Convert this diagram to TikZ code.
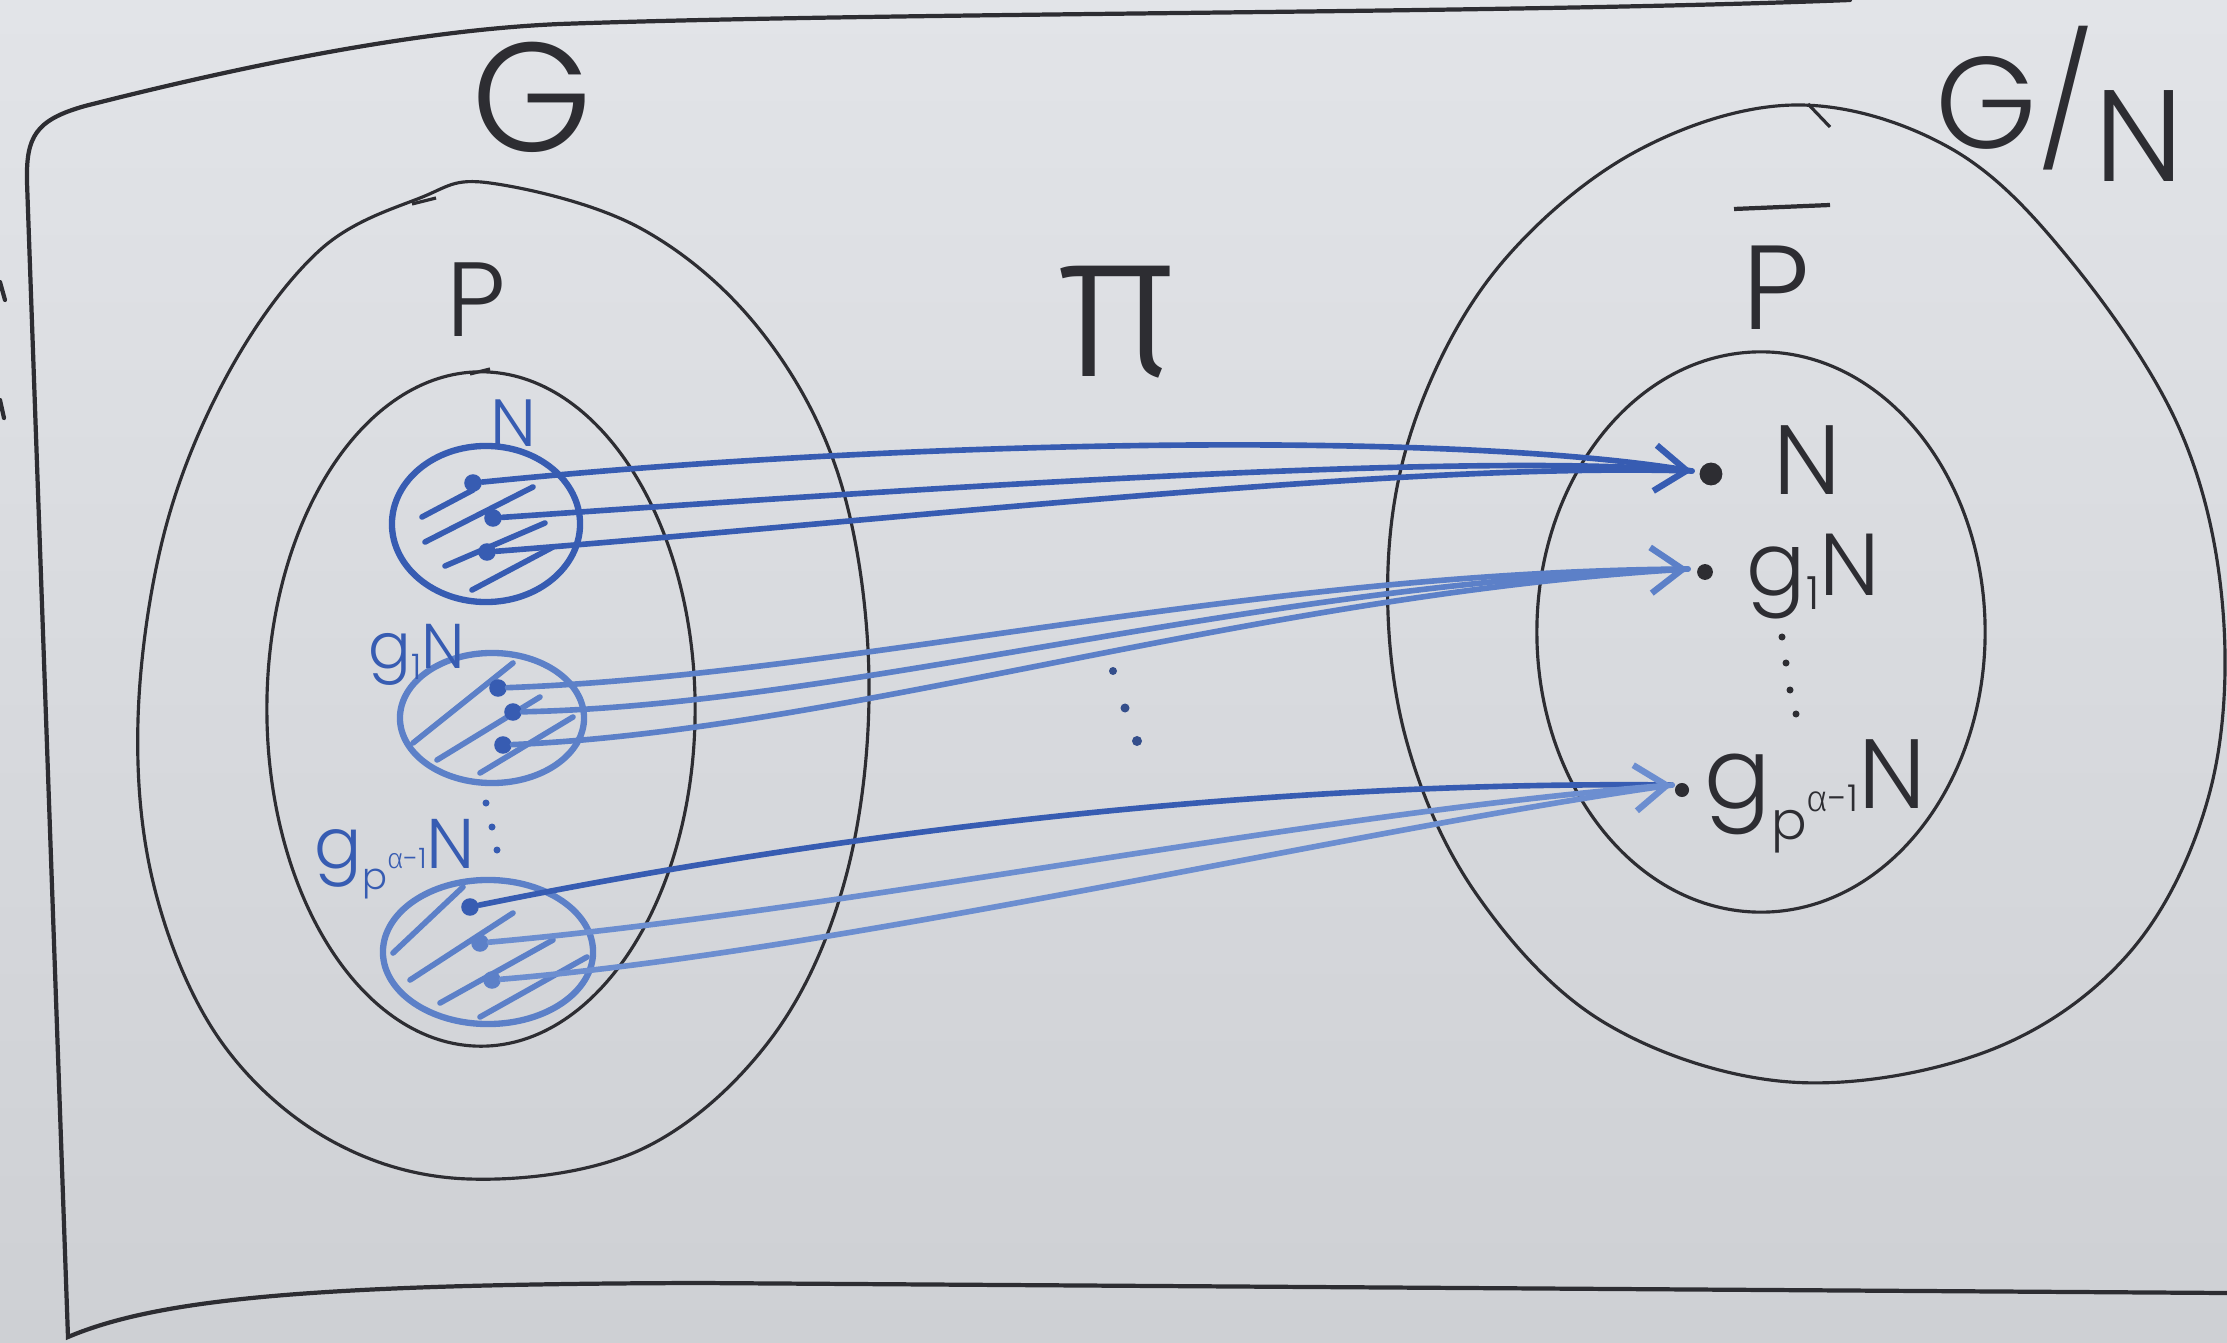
\documentclass[tikz,border=0pt]{standalone}
\usepackage{fontspec}
\setmainfont{Poppins}[UprightFont=* Light]
\newfontfamily\grk{Fira Sans}[UprightFont=* Light]
\usetikzlibrary{arrows.meta,calc}
\definecolor{boardtop}{RGB}{226,228,232}
\definecolor{boardbot}{RGB}{206,208,212}
\definecolor{inkc}{RGB}{45,45,50}
\definecolor{blueA}{RGB}{55,92,178}
\definecolor{blueB}{RGB}{92,128,200}
\definecolor{blueC}{RGB}{108,142,208}
\begin{document}
\begin{tikzpicture}[x=0.01cm,y=-0.01cm,
  ink/.style={draw=inkc,line width=0.9pt},
  frame/.style={draw=inkc,line width=1.2pt,line cap=round},
  bcirc/.style={draw=#1,line width=1.8pt},
  hatch/.style={draw=#1,line width=1.6pt,line cap=round},
  bun/.style={draw=#1,line width=1.6pt,line cap=round},
  tip/.style={-{Straight Barb[length=9pt,width=13pt,line width=1.8pt]}},
  ldot/.style={circle,fill=#1,inner sep=0pt,minimum size=5pt},
  rdot/.style={circle,fill=inkc,inner sep=0pt,minimum size=#1},
  lbl/.style={text=inkc,inner sep=0pt},
  blbl/.style={text=blueA,inner sep=0pt}]
\useasboundingbox (0,0) rectangle (2227,1343);
\shade[top color=boardtop,bottom color=boardbot] (0,0) rectangle (2227,1343);

% frame
\draw[frame] (1850,0) .. controls (1500,14) and (900,12) .. (560,24)
  .. controls (420,30) and (250,64) .. (85,106)
  .. controls (35,120) and (26,137) .. (27,182) -- (68,1337)
  .. controls (160,1298) and (320,1284) .. (700,1283) -- (2227,1293);
\draw[frame] (0,282) -- (5,300);
\draw[frame] (0,400) -- (4,418);

% G side
\draw[ink] plot[smooth cycle,tension=0.6] coordinates {(490,183) (640,228) (760,330) (840,480) (869,680) (845,880) (770,1040) (640,1150) (469,1179) (330,1140) (220,1040) (155,890) (138,720) (165,530) (230,370) (320,250) (420,198)};
\draw[ink] (412,204) -- (436,198);
\draw[ink] (481,709) ellipse [x radius=2.14cm, y radius=3.37cm];
\draw[ink] (470,374) -- (490,369);

% G/N side
\draw[ink] plot[smooth cycle,tension=0.6] coordinates {(1795,105) (1635,152) (1500,265) (1418,412) (1388,568) (1406,739) (1477,895) (1605,1023) (1790,1082) (1988,1051) (2130,952) (2209,795) (2223,611) (2180,430) (2070,260) (1950,148)};
\draw[ink] (1808,104) -- (1830,127);
\draw[ink] (1761,632) ellipse [x radius=2.24cm, y radius=2.80cm];

% labels
\node[lbl,font=\fontsize{44}{44}\selectfont] (G) at (532,97) {G};
\node[lbl,font=\fontsize{37}{37}\selectfont] (GN) at (2060,104) {G/\raisebox{-0.25em}{N}};
\node[lbl,font=\fontsize{30}{30}\selectfont] (P) at (476,300) {P};
\node[lbl,font=\fontsize{60}{60}\selectfont] (pi) at (1117,322) {\grk π};
\node[lbl,font=\fontsize{34}{34}\selectfont] (Pbar) at (1776,288) {P};
\draw[ink,line width=1.2pt] (1734,209) -- (1830,205);

% small circles (left)
\draw[bcirc=blueA] (486,524) ellipse [x radius=0.94cm, y radius=0.78cm];
\draw[bcirc=blueB] (492,718) ellipse [x radius=0.92cm, y radius=0.65cm];
\draw[bcirc=blueB] (488,952) ellipse [x radius=1.05cm, y radius=0.72cm];

% hatching
\draw[hatch=blueA] (422,517) -- (473,490);
\draw[hatch=blueA] (425,542) -- (533,487);
\draw[hatch=blueA] (445,566) -- (545,523);
\draw[hatch=blueA] (472,590) -- (553,547);
\draw[hatch=blueB] (413,743) -- (513,663);
\draw[hatch=blueB] (437,760) -- (540,697);
\draw[hatch=blueB] (480,773) -- (573,717);
\draw[hatch=blueB] (393,953) -- (463,887);
\draw[hatch=blueB] (410,980) -- (513,913);
\draw[hatch=blueB] (440,1003) -- (553,940);
\draw[hatch=blueB] (480,1017) -- (587,957);

% left blue labels
\node[blbl,font=\fontsize{19}{19}\selectfont] (lN) at (513,423) {N};
\node[blbl,font=\fontsize{18}{18}\selectfont] (lg1) at (417,655) {g\raisebox{-3pt}{\fontsize{10}{10}\selectfont 1}N};
\node[blbl,font=\fontsize{20}{20}\selectfont,anchor=base west] (lg3) at (314,868) {g\raisebox{-6pt}{\fontsize{10.5}{10.5}\selectfont p\raisebox{6pt}{\fontsize{8}{8}\selectfont{\grk α}-1}}N};
\fill[blueA] (486,803) circle [radius=0.035cm];
\fill[blueA] (492,827) circle [radius=0.035cm];
\fill[blueA] (497,850) circle [radius=0.035cm];

% left dots
\node[ldot=blueA] (a1) at (473,483) {};
\node[ldot=blueA] (a2) at (493,518) {};
\node[ldot=blueA] (a3) at (487,552) {};
\node[ldot=blueA] (b1) at (498,688) {};
\node[ldot=blueA] (b2) at (513,712) {};
\node[ldot=blueA] (b3) at (503,745) {};
\node[ldot=blueA] (c1) at (470,907) {};
\node[ldot=blueB] (c2) at (480,943) {};
\node[ldot=blueB] (c3) at (492,980) {};

% right dots and labels
\node[rdot=6.5pt] (rN) at (1711,474) {};
\node[rdot=4.5pt] (rg1) at (1705,572) {};
\node[rdot=4pt] (rg3) at (1682,790) {};
\coordinate (tN) at (1692,471);
\coordinate (tg1) at (1688,569);
\coordinate (tg3) at (1672,785);
\node[lbl,font=\fontsize{28}{28}\selectfont] (labN) at (1807,460) {N};
\node[lbl,font=\fontsize{25}{25}\selectfont,anchor=base west] (labg1) at (1746,595) {g\raisebox{-4pt}{\fontsize{13}{13}\selectfont 1}N};
\node[lbl,font=\fontsize{28}{28}\selectfont,anchor=base west] (labg3) at (1704,808) {g\raisebox{-9pt}{\fontsize{15}{15}\selectfont p\raisebox{8pt}{\fontsize{10.5}{10.5}\selectfont{\grk α}-1}}N};
\foreach \p in {(1782,637),(1786,663),(1790,690),(1796,714)}
  \fill[inkc] \p circle [radius=0.035cm];

% middle dots
\fill[blueA!70!inkc] (1113,671) circle [radius=0.04cm];
\fill[blueA!70!inkc] (1125,708) circle [radius=0.045cm];
\fill[blueA!70!inkc] (1137,741) circle [radius=0.05cm];

% bundles
\draw[bun=blueA] (a1) .. controls (900,440) and (1450,430) .. (tN);
\draw[bun=blueA] (a3) .. controls (900,520) and (1400,462) .. (tN);
\draw[bun=blueA,tip] (a2) .. controls (900,490) and (1450,452) .. (tN);

\draw[bun=blueB] (b1) .. controls (850,675) and (1250,572) .. (tg1);
\draw[bun=blueB] (b3) .. controls (850,730) and (1250,595) .. (tg1);
\draw[bun=blueB,tip] (b2) .. controls (850,705) and (1250,584) .. (tg1);

\draw[bun=blueA] (c1) .. controls (750,850) and (1200,780) .. (tg3);
\draw[bun=blueC] (c3) .. controls (850,950) and (1350,830) .. (tg3);
\draw[bun=blueC,tip] (c2) .. controls (850,910) and (1300,815) .. (tg3);
\end{tikzpicture}
\end{document}
